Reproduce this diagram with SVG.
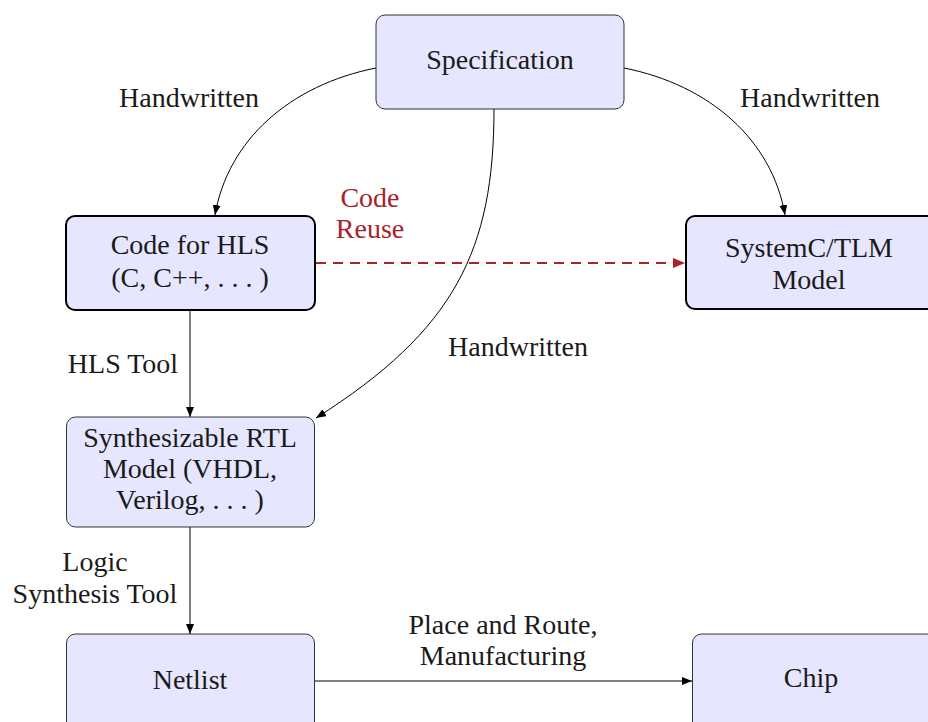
<svg xmlns="http://www.w3.org/2000/svg" width="928" height="722" viewBox="0 0 928 722">
<style>
text{font-family:"Liberation Serif","Times New Roman",serif;font-size:28px;fill:#1a1a1a;text-anchor:middle}
.box{fill:#e6e6ff;stroke:#333;stroke-width:1}
.thick{stroke:#000;stroke-width:2}
.edge{fill:none;stroke:#000;stroke-width:1}
.reuse{fill:none;stroke:#a82228;stroke-width:2;stroke-dasharray:10 7}
.red{fill:#a82228}
</style>
<defs>
<marker id="ah" markerUnits="userSpaceOnUse" markerWidth="10" markerHeight="8" refX="10" refY="4" orient="auto">
<path d="M0,0 L10,4 L0,8 z" fill="#000"/>
</marker>
<marker id="ahr" markerUnits="userSpaceOnUse" markerWidth="12" markerHeight="10" refX="12" refY="5" orient="auto">
<path d="M0,0 L12,5 L0,10 z" fill="#a82228"/>
</marker>
</defs>
<g id="connectors">
<path class="edge" d="M376,68 C290,85 228,140 215,215" marker-end="url(#ah)"/>
<path class="edge" d="M624,68 C710,85 772,140 785,215" marker-end="url(#ah)"/>
<path class="edge" d="M494,109 C494,250 455,330 316,418" marker-end="url(#ah)"/>
<path class="reuse" d="M316,263 L685,263" marker-end="url(#ahr)"/>
<path class="edge" d="M190,311 L190,417" marker-end="url(#ah)"/>
<path class="edge" d="M190,527 L190,634" marker-end="url(#ah)"/>
<path class="edge" d="M314,681 L692,681" marker-end="url(#ah)"/>
<text x="189" y="107">Handwritten</text>
<text x="810" y="107">Handwritten</text>
<text x="518" y="356">Handwritten</text>
<text class="red" x="370" y="207">Code</text>
<text class="red" x="370" y="238">Reuse</text>
<text x="123" y="373">HLS Tool</text>
<text x="95" y="571">Logic</text>
<text x="95" y="603">Synthesis Tool</text>
<text x="503" y="634">Place and Route,</text>
<text x="503" y="665">Manufacturing</text>
</g>
<g id="spec">
<rect class="box" x="376" y="15" width="248" height="94" rx="9"/>
<text x="500" y="69">Specification</text>
</g>
<g id="hls">
<rect class="box thick" x="66" y="216" width="249" height="94" rx="9"/>
<text x="190" y="254">Code for HLS</text>
<text x="190" y="287">(C, C++, . . . )</text>
</g>
<g id="systemc">
<rect class="box thick" x="686" y="216" width="250" height="93" rx="9"/>
<text x="809" y="257">SystemC/TLM</text>
<text x="809" y="289">Model</text>
</g>
<g id="rtl">
<rect class="box" x="66.5" y="417" width="248" height="110" rx="9"/>
<text x="190" y="447">Synthesizable RTL</text>
<text x="190" y="478">Model (VHDL,</text>
<text x="190" y="509">Verilog, . . . )</text>
</g>
<g id="netlist">
<rect class="box" x="66.5" y="634" width="248" height="100" rx="9"/>
<text x="190" y="689">Netlist</text>
</g>
<g id="chip">
<rect class="box" x="692.5" y="634" width="248" height="100" rx="9"/>
<text x="811" y="687">Chip</text>
</g>
</svg>
